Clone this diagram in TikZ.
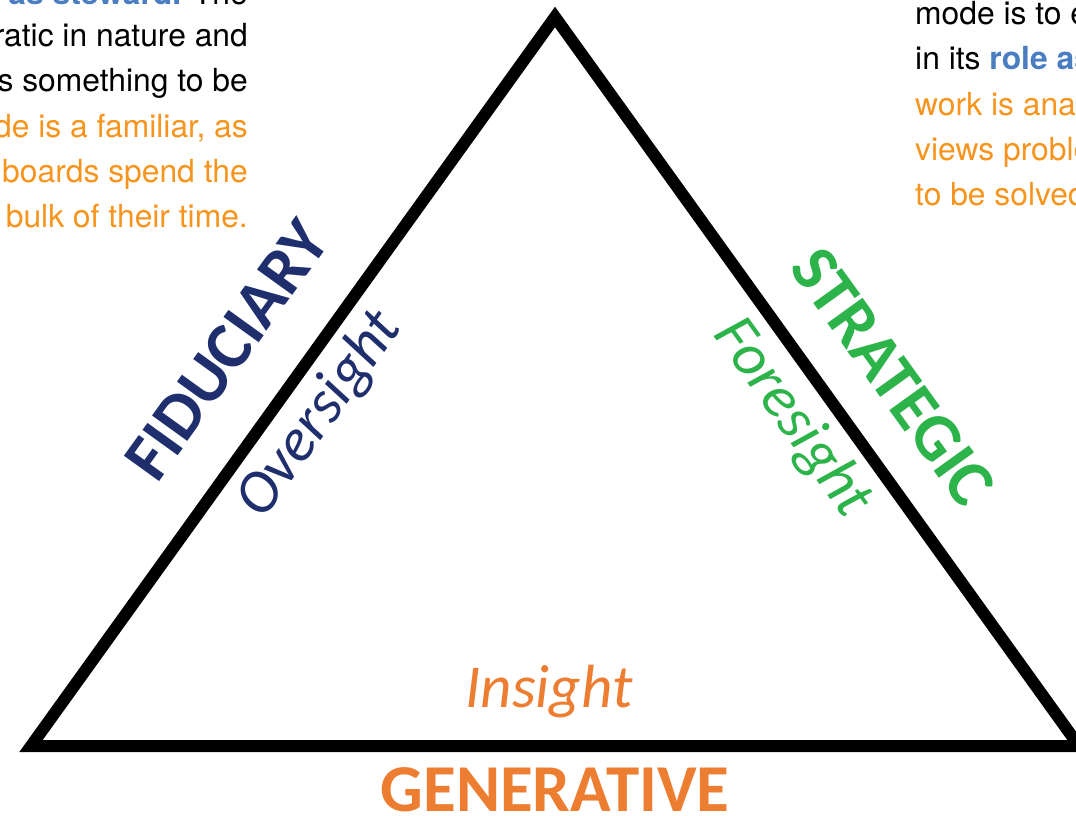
\documentclass[tikz,border=0pt]{standalone}
\usepackage{fontspec}
\setmainfont{TeX Gyre Heros}
\newfontfamily\calibri{Carlito}
\definecolor{navyBlue}{HTML}{1F2F6E}
\definecolor{modeGreen}{HTML}{2CB34A}
\definecolor{modeOrange}{HTML}{ED7D31}
\definecolor{textOrange}{HTML}{F7941D}
\definecolor{textBlue}{HTML}{4A7EC0}
\begin{document}
\begin{tikzpicture}[
        x=1pt, y=-1pt,
        modeNode/.style={font=\calibri\bfseries\fontsize{67}{70}\selectfont, inner sep=0pt},
        sightNode/.style={font=\calibri\itshape\fontsize{61}{64}\selectfont, inner sep=0pt},
        leftLine/.style={font=\fontsize{31.8}{36}\selectfont, inner sep=0pt, anchor=base east},
        rightLine/.style={font=\fontsize{31.8}{36}\selectfont, inner sep=0pt, anchor=base west}
    ]
    \useasboundingbox (0,0) rectangle (1076,816);
    \clip (0,0) rectangle (1076,816);

    \coordinate (apex) at (555,17);
    \coordinate (baseL) at (31,746);
    \coordinate (baseR) at (1079,746);
    \draw [line width=12pt, line join=miter] (baseL) -- (apex) -- (baseR) -- cycle;

    \node [modeNode, navyBlue, rotate=54.25] (fiduciary) at (227,350) {FIDUCIARY};
    \node [sightNode, navyBlue, rotate=54.25] (oversight) at (320,415) {Oversight};
    \node [modeNode, modeGreen, rotate=-54.25] (strategic) at (893,377) {STRATEGIC};
    \node [sightNode, modeGreen, rotate=-54.25] (foresight) at (792,418) {Foresight};
    \node [sightNode, modeOrange] (insight) at (549,692) {Insight};
    \node [modeNode, modeOrange] (generative) at (555,790) {GENERATIVE};

    \node [leftLine] (l1) at (248,5) {{\color{textBlue}\bfseries role as steward.} The};
    \node [leftLine] (l2) at (248,47) {bureaucratic in nature and};
    \node [leftLine] (l3) at (248,92) {problems as something to be};
    \node [leftLine, textOrange] (l4) at (248,137) {This mode is a familiar, as};
    \node [leftLine, textOrange] (l5) at (248,182) {most boards spend the};
    \node [leftLine, textOrange] (l6) at (248,227) {the bulk of their time.};

    \node [rightLine] (r1) at (915,25) {mode is to engage};
    \node [rightLine] (r2) at (915,70) {in its {\color{textBlue}\bfseries role as}};
    \node [rightLine, textOrange] (r3) at (915,115) {work is analytical};
    \node [rightLine, textOrange] (r4) at (915,160) {views problems};
    \node [rightLine, textOrange] (r5) at (915,205) {to be solved.};

\end{tikzpicture}
\end{document}
